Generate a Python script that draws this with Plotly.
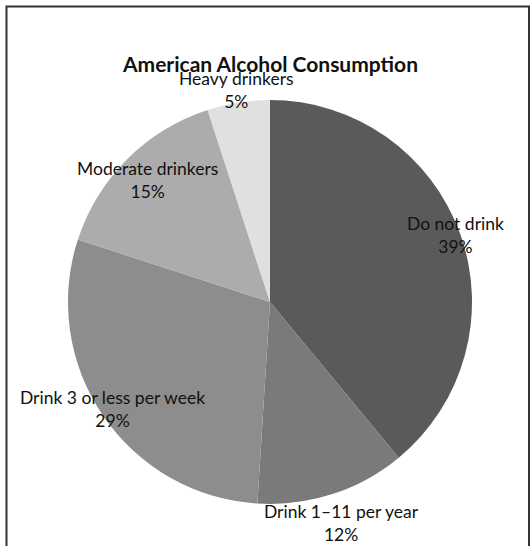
import math
import plotly.graph_objects as go

# ---- data ----
categories = ["Do not drink", "Drink 1–11 per year", "Drink 3 or less per week",
              "Moderate drinkers", "Heavy drinkers"]
percent = [39, 12, 29, 15, 5]
title_text = "American Alcohol Consumption"

# ---- styling / layout ----
W, H = 531, 546
colors = ["#5a5a5a", "#7a7a7a", "#8d8d8d", "#acacac", "#e0e0e0"]
cx, cy, R = 270, 302, 202          # pie centre & radius in pixels
label_dist = [197, 232, 190, 173, 215]  # label distance from centre (px)
FONT = "Lato"

fig = go.Figure()
fig.add_trace(go.Pie(
    labels=categories, values=percent, sort=False, direction="clockwise",
    rotation=0, textinfo="none", hoverinfo="label+percent",
    marker=dict(colors=colors, line=dict(width=0)),
    domain=dict(x=[(cx - R) / W, (cx + R) / W],
                y=[1 - (cy + R) / H, 1 - (cy - R) / H]),
    showlegend=False,
))

total = sum(percent)
cum = 0
annotations = []
for i, (cat, v) in enumerate(zip(categories, percent)):
    mid = (cum + v / 2) / total * 2 * math.pi
    cum += v
    px = cx + label_dist[i] * math.sin(mid)
    py = cy - label_dist[i] * math.cos(mid)
    annotations.append(dict(
        x=px / W, y=1 - py / H, xref="paper", yref="paper",
        xanchor="center", yanchor="middle", showarrow=False,
        text=f"{cat}<br>{round(v / total * 100)}%",
        font=dict(family=FONT, size=17.5, color="#111111"), align="center",
    ))

annotations.append(dict(
    x=270 / W, y=1 - 63 / H, xref="paper", yref="paper",
    xanchor="center", yanchor="middle", showarrow=False,
    text=f"<b>{title_text}</b>",
    font=dict(family=FONT, size=21, color="#111111"),
))

fig.update_layout(
    width=W, height=H, margin=dict(l=0, r=0, t=0, b=0),
    paper_bgcolor="white", plot_bgcolor="white",
    annotations=annotations,
    shapes=[dict(type="rect", xref="paper", yref="paper",
                 x0=6.5 / W, x1=529 / W, y0=-0.05, y1=1 - 6.5 / H,
                 line=dict(color="#333333", width=2), layer="above")],
)

fig.write_html("out.html")
